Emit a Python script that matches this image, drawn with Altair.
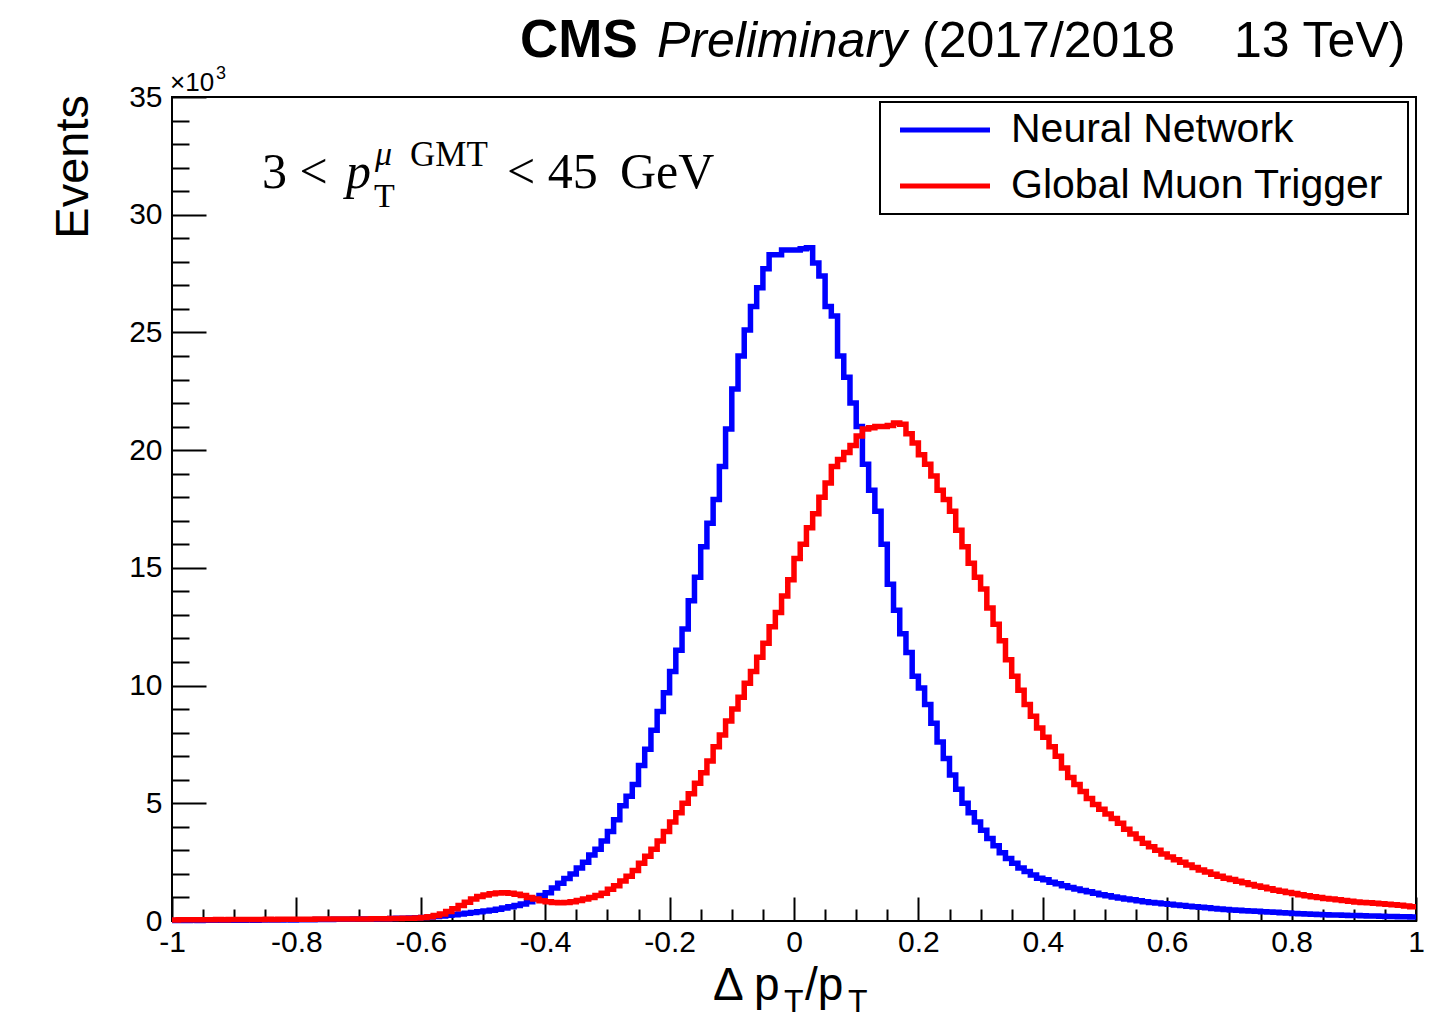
import altair as alt
import pandas as pd

# ---------------- data ----------------
# histogram: 200 bins of width 0.01 on [-1, 1]; values in units of 10^3 events
bin_edges = [round(-1.0 + 0.01 * i, 2) for i in range(201)]

nn_values = [
    0.02, 0.02, 0.02, 0.03, 0.02, 0.03, 0.03, 0.03, 0.03, 0.03,
    0.03, 0.03, 0.04, 0.03, 0.04, 0.04, 0.04, 0.04, 0.05, 0.04,
    0.05, 0.05, 0.05, 0.06, 0.06, 0.06, 0.07, 0.07, 0.07, 0.08,
    0.08, 0.09, 0.09, 0.10, 0.10, 0.11, 0.12, 0.12, 0.13, 0.14,
    0.15, 0.17, 0.19, 0.21, 0.24, 0.27, 0.30, 0.33, 0.36, 0.39,
    0.42, 0.46, 0.50, 0.55, 0.60, 0.66, 0.72, 0.82, 0.95, 1.08,
    1.20, 1.40, 1.60, 1.80, 2.00, 2.25, 2.50, 2.80, 3.05, 3.40,
    3.80, 4.30, 4.90, 5.30, 5.80, 6.60, 7.30, 8.10, 8.90, 9.70,
    10.6, 11.5, 12.4, 13.6, 14.6, 15.9, 16.9, 17.9, 19.3, 20.9,
    22.6, 24.0, 25.1, 26.1, 26.9, 27.7, 28.3, 28.3, 28.5, 28.5,
    28.5, 28.55, 28.6, 27.95, 27.4, 26.1, 25.7, 24.0, 23.1, 22.0,
    21.0, 19.4, 18.3, 17.4, 16.0, 14.3, 13.2, 12.2, 11.4, 10.4,
    9.9, 9.2, 8.4, 7.6, 6.9, 6.2, 5.6, 5.0, 4.6, 4.2,
    3.85, 3.5, 3.2, 2.9, 2.65, 2.45, 2.25, 2.1, 1.95, 1.82,
    1.75, 1.65, 1.58, 1.5, 1.42, 1.36, 1.3, 1.24, 1.18, 1.12,
    1.07, 1.02, 0.98, 0.93, 0.9, 0.86, 0.82, 0.79, 0.76, 0.73,
    0.71, 0.68, 0.66, 0.63, 0.6, 0.58, 0.56, 0.53, 0.51, 0.49,
    0.47, 0.46, 0.44, 0.42, 0.41, 0.39, 0.38, 0.37, 0.35, 0.34,
    0.32, 0.31, 0.3, 0.29, 0.28, 0.27, 0.26, 0.25, 0.24, 0.23,
    0.23, 0.22, 0.21, 0.21, 0.2, 0.19, 0.19, 0.18, 0.18, 0.17,
]

gmt_values = [
    0.04, 0.05, 0.05, 0.05, 0.05, 0.05, 0.05, 0.06, 0.05, 0.06,
    0.06, 0.06, 0.06, 0.06, 0.06, 0.07, 0.06, 0.07, 0.07, 0.07,
    0.07, 0.07, 0.07, 0.08, 0.08, 0.08, 0.08, 0.08, 0.09, 0.09,
    0.09, 0.09, 0.10, 0.10, 0.10, 0.11, 0.11, 0.12, 0.12, 0.13,
    0.15, 0.18, 0.23, 0.30, 0.40, 0.52, 0.66, 0.80, 0.93, 1.04,
    1.10, 1.16, 1.19, 1.20, 1.18, 1.14, 1.08, 1.00, 0.93, 0.86,
    0.82, 0.79, 0.78, 0.79, 0.82, 0.87, 0.93, 1.00, 1.08, 1.18,
    1.35, 1.50, 1.70, 1.90, 2.15, 2.45, 2.75, 3.05, 3.40, 3.80,
    4.2, 4.6, 5.0, 5.4, 5.85, 6.3, 6.8, 7.4, 7.9, 8.5,
    9.0, 9.5, 10.1, 10.6, 11.2, 11.8, 12.5, 13.1, 13.8, 14.5,
    15.4, 16.0, 16.7, 17.3, 18.0, 18.6, 19.3, 19.6, 19.9, 20.2,
    20.6, 20.9, 20.95, 21.0, 21.0, 21.05, 21.15, 21.1, 20.7, 20.3,
    19.8, 19.4, 18.9, 18.3, 17.9, 17.4, 16.6, 15.9, 15.2, 14.6,
    14.1, 13.3, 12.6, 11.9, 11.1, 10.4, 9.8, 9.2, 8.7, 8.2,
    7.8, 7.4, 7.0, 6.5, 6.1, 5.8, 5.5, 5.2, 4.95, 4.75,
    4.55, 4.35, 4.15, 3.9, 3.7, 3.5, 3.3, 3.15, 3.0, 2.85,
    2.72, 2.6, 2.5, 2.38, 2.27, 2.17, 2.08, 1.99, 1.9, 1.82,
    1.76, 1.69, 1.62, 1.55, 1.49, 1.43, 1.37, 1.31, 1.26, 1.21,
    1.17, 1.12, 1.07, 1.03, 1.0, 0.96, 0.93, 0.9, 0.87, 0.84,
    0.81, 0.79, 0.77, 0.75, 0.73, 0.71, 0.69, 0.67, 0.64, 0.61,
]

series_names = ["Neural Network", "Global Muon Trigger"]
series_colors = ["#0000ff", "#ff0000"]

x_major_ticks = [-1, -0.8, -0.6, -0.4, -0.2, 0, 0.2, 0.4, 0.6, 0.8, 1]
x_minor_ticks = [-0.95, -0.9, -0.85, -0.75, -0.7, -0.65, -0.55, -0.5, -0.45,
                 -0.35, -0.3, -0.25, -0.15, -0.1, -0.05, 0.05, 0.1, 0.15,
                 0.25, 0.3, 0.35, 0.45, 0.5, 0.55, 0.65, 0.7, 0.75, 0.85,
                 0.9, 0.95]
y_major_ticks = [0, 5, 10, 15, 20, 25, 30, 35]
y_minor_ticks = [v for v in range(0, 36) if v % 5 != 0]


def hist_frame(values, name):
    # step-after line: one point per bin lower edge plus closing point at upper edge
    xs = bin_edges[:-1] + [bin_edges[-1]]
    ys = list(values) + [values[-1]]
    return pd.DataFrame({"x": xs, "y": ys, "series": name})


df_nn = hist_frame(nn_values, series_names[0])
df_gmt = hist_frame(gmt_values, series_names[1])

SANS = "Liberation Sans"
SERIF = "Liberation Serif"

xscale = alt.Scale(domain=[-1, 1], nice=False, zero=False)
yscale = alt.Scale(domain=[0, 35], nice=False, zero=False)

x_major_axis = alt.Axis(orient="bottom", values=x_major_ticks, offset=-24, tickSize=24,
                        tickWidth=2, tickColor="black", domain=False, grid=False,
                        labelFont=SANS, labelFontSize=30, labelColor="black",
                        labelPadding=6, labelFlush=False, labelOverlap=False,
                        labelExpr="replace(format(datum.value, ''), '\u2212', '-')",
                        title=None)
x_minor_axis = alt.Axis(orient="bottom", values=x_minor_ticks, offset=-12, tickSize=12,
                        tickWidth=2, tickColor="black", domain=False, grid=False,
                        labels=False, title=None)
y_major_axis = alt.Axis(orient="left", values=y_major_ticks, offset=-34, tickSize=34,
                        tickWidth=2, tickColor="black", domain=False, grid=False,
                        labelFont=SANS, labelFontSize=30, labelColor="black",
                        labelPadding=10, labelFlush=False, labelOverlap=False, title=None)
y_minor_axis = alt.Axis(orient="left", values=y_minor_ticks, offset=-17, tickSize=17,
                        tickWidth=2, tickColor="black", domain=False, grid=False,
                        labels=False, title=None)

# ---------------- histogram layers ----------------
nn_line = alt.Chart(df_nn).mark_line(
    interpolate="step-after", color=series_colors[0], strokeWidth=5.5,
    strokeJoin="miter", strokeCap="butt"
).encode(
    x=alt.X("x:Q", scale=xscale, axis=x_major_axis),
    y=alt.Y("y:Q", scale=yscale, axis=y_major_axis),
)

gmt_line = alt.Chart(df_gmt).mark_line(
    interpolate="step-after", color=series_colors[1], strokeWidth=5.5,
    strokeJoin="miter", strokeCap="butt"
).encode(
    x=alt.X("x:Q", scale=xscale, axis=x_minor_axis),
    y=alt.Y("y:Q", scale=yscale, axis=y_minor_axis),
)


def text(s, x, y, size, font=SANS, weight="normal", style="normal", align="left",
         baseline="alphabetic", angle=0):
    kw = dict(align=align, baseline=baseline, fontSize=size, font=font,
              fontWeight=weight, fontStyle=style, color="black")
    if angle:
        kw["angle"] = angle
    return alt.Chart(pd.DataFrame({"t": [s]})).mark_text(**kw).encode(
        text="t:N", x=alt.value(x), y=alt.value(y))


# ---------------- legend ----------------
legend_box = alt.Chart(pd.DataFrame({"t": [0]})).mark_rect(
    fill="white", stroke="black", strokeWidth=2
).encode(x=alt.value(708), x2=alt.value(1236), y=alt.value(5), y2=alt.value(117))

legend_nn = alt.Chart(pd.DataFrame({"t": [0]})).mark_rule(
    color=series_colors[0], strokeWidth=5
).encode(x=alt.value(728), x2=alt.value(818), y=alt.value(33))
legend_gmt = alt.Chart(pd.DataFrame({"t": [0]})).mark_rule(
    color=series_colors[1], strokeWidth=5
).encode(x=alt.value(728), x2=alt.value(818), y=alt.value(89))

layers = [
    nn_line, gmt_line,
    legend_box, legend_nn, legend_gmt,
    text(series_names[0], 839, 33, 41, baseline="middle"),
    text(series_names[1], 839, 89, 41, baseline="middle"),
    # header
    text("CMS", 348, -40, 53, weight="bold"),
    text("Preliminary", 485, -40, 50, style="italic"),
    text("(2017/2018", 750, -40, 50),
    text("13 TeV)", 1062, -40, 50),
    # exponent
    text("\u00d710", -2, -6, 26),
    text("3", 44, -18, 18),
    # y title
    text("Events", -84, -2, 47, align="right", angle=270),
    # x title
    text("\u0394 p", 541, 903, 46),
    text("T", 612, 915, 32),
    text("/p", 633, 903, 46),
    text("T", 676, 915, 32),
    # cut label
    text("3 <", 90, 91, 50, font=SERIF),
    text("p", 174, 91, 50, font=SERIF, style="italic"),
    text("\u03bc", 203, 68, 34, font=SERIF, style="italic"),
    text("GMT", 238, 69, 35, font=SERIF),
    text("T", 202, 110, 34, font=SERIF),
    text("< 45", 335, 91, 50, font=SERIF),
    text("GeV", 448, 91, 50, font=SERIF),
]

chart = alt.layer(*layers).resolve_axis(
    x="independent", y="independent"
).properties(
    width=1244, height=824,
    padding={"left": 164, "top": 89, "right": 20, "bottom": 91},
    autosize=alt.AutoSizeParams(type="none"),
    background="white",
).configure_view(stroke="black", strokeWidth=2)

chart.save("out.html", embed_options={"renderer": "svg", "actions": False})
